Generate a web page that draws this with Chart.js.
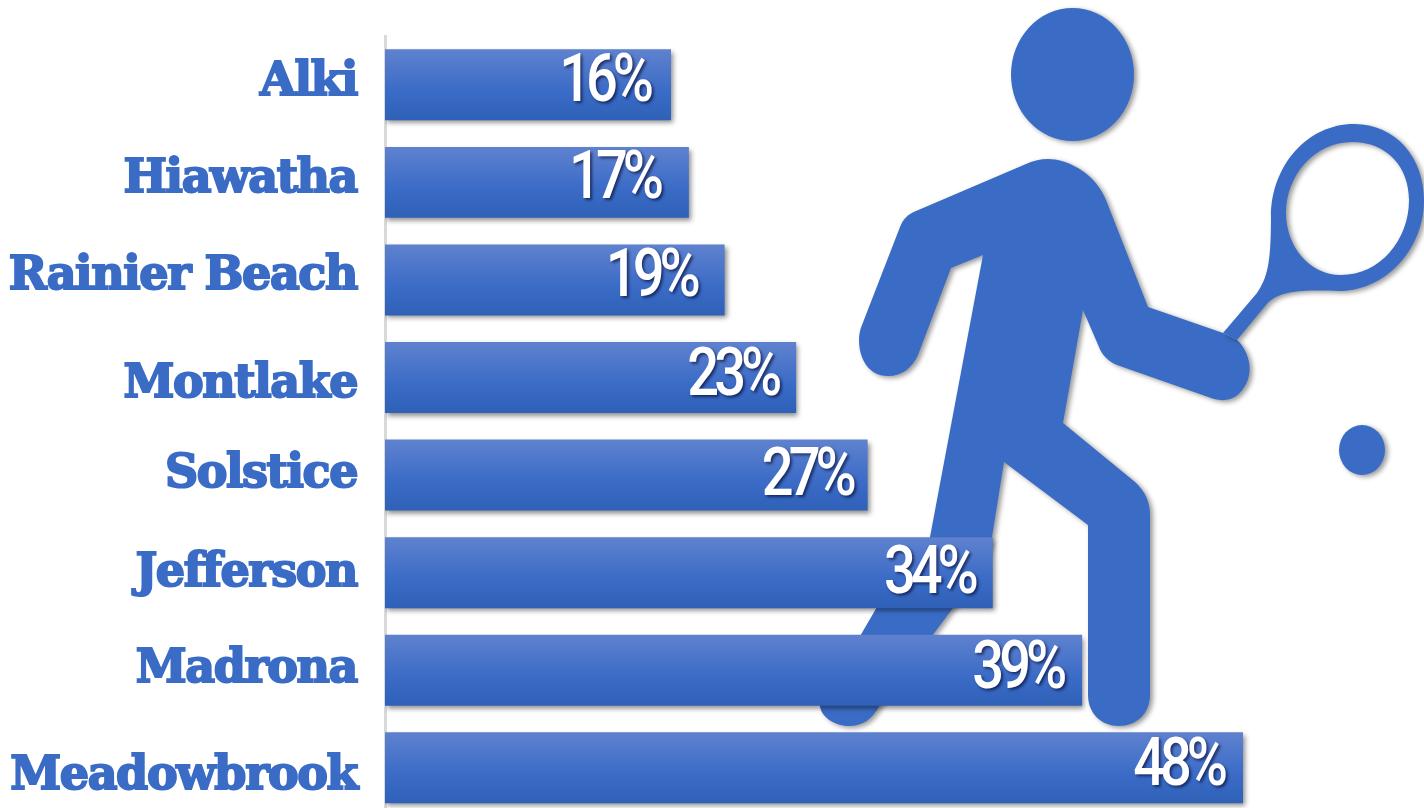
<!DOCTYPE html>
<html>
<head>
<meta charset="utf-8">
<title>Tennis participation</title>
<script src="https://cdn.jsdelivr.net/npm/chart.js@4"></script>
<style>
    html, body { margin: 0; padding: 0; background: #ffffff; overflow: hidden; }
    #wrap { width: 1424px; height: 808px; overflow: hidden; }
    canvas { display: block; }
</style>
</head>
<body>
<div id="wrap"><canvas id="chart" width="1424" height="840"></canvas></div>
<script>
const categories = ["Alki", "Hiawatha", "Rainier Beach", "Montlake", "Solstice", "Jefferson", "Madrona", "Meadowbrook"];
const percentValues = [16, 17, 19, 23, 27, 34, 39, 48];

// the labels in the original sit a little off the bar centres
const tickNudgeY = [-2, -2, -3, 8, 0, 1, 0, 9];
const valueShiftX = [-22, -30, -29, -19, -16, -19, -20, -20];
const valueNudgeY = [-2, -3, -2, -1, 1, 2, -1, -1];

const BLUE = "#3a6cc6";

/* ================= PLAYER FIGURE ================= */
const figurePaths = [
    // body
    "M1026 164 C1044 156 1060 158 1078 168 C1092 176 1101 188 1106 200 L1148 307 L1223 333 L1237 340 " +
    "C1250 352 1253 372 1246 384 C1240 396 1230 403 1214 399 L1117 365 C1108 361 1102 355 1099 347 L1083 310 " +
    "L1063 423 L1135 482 C1145 491 1150 502 1150 515 L1150 695 C1150 714 1136 726 1119 726 " +
    "C1102 726 1088 714 1088 695 L1088 525 L1004 462 L992 537 C988 560 970 585 953 608 L880 705 " +
    "C872 720 862 726 849 726 C834 726 820 716 820 705 L877 607 C895 585 920 560 930 537 L983 255 L951 268 L918 355 " +
    "C912 368 902 376 888 376 C868 376 859 358 859 340 C859 334 860 330 862 325 L900 227 C903 219 908 214 916 211 Z",
    // head
    "M1011 74.5 A61.5 66.5 0 1 1 1134 74.5 A61.5 66.5 0 1 1 1011 74.5 Z",
    // ball
    "M1339 450 A23 25 0 1 1 1385 450 A23 25 0 1 1 1339 450 Z",
    // racket with the hole cut out
    "M1223 333 L1257 293 C1267 278 1271 265 1271 217 C1271 165 1308 124 1354 124 C1396 124 1424 158 1424 200 " +
    "C1424 250 1385 291 1339 291 C1320 291 1280 287 1266 305 L1237 340 Z " +
    "M1286 213 C1286 245 1308 275 1341 275 C1380 275 1409 240 1409 200 C1409 168 1388 142 1352 142 C1315 142 1286 175 1286 213 Z"
];

const figurePlugin = {
    id: "figure",
    beforeDatasetsDraw(chart) {
        const ctx = chart.ctx;
        ctx.save();
        ctx.fillStyle = BLUE;
        ctx.shadowColor = "rgba(0,0,0,0.4)";
        ctx.shadowBlur = 5;
        ctx.shadowOffsetX = 3;
        ctx.shadowOffsetY = 2;
        figurePaths.forEach(d => ctx.fill(new Path2D(d), "evenodd"));
        ctx.restore();
    }
};

/* ================= SHADOWS AND LABELS ================= */
const barShadowPlugin = {
    id: "barShadow",
    beforeDatasetDraw(chart) {
        const ctx = chart.ctx;
        ctx.save();
        ctx.shadowColor = "rgba(0,0,0,0.45)";
        ctx.shadowBlur = 5;
        ctx.shadowOffsetX = 2;
        ctx.shadowOffsetY = 3;
    },
    afterDatasetDraw(chart) {
        chart.ctx.restore();
    }
};

const tickNudgePlugin = {
    id: "tickNudge",
    beforeDraw(chart) {
        chart.ctx.letterSpacing = "-1.4px";
        chart.scales.y.getLabelItems(chart.chartArea).forEach((item, i) => {
            if (!item.nudged) {
                item.options.translation[1] += tickNudgeY[i];
                item.nudged = true;
            }
        });
    }
};

const valueLabelPlugin = {
    id: "valueLabels",
    afterDatasetsDraw(chart) {
        const ctx = chart.ctx;
        const bars = chart.getDatasetMeta(0).data;
        ctx.save();
        ctx.font = "500 66px Roboto";
        ctx.letterSpacing = "-6px";
        ctx.fillStyle = "#ffffff";
        ctx.textAlign = "right";
        ctx.textBaseline = "middle";
        ctx.shadowColor = "rgba(0,0,40,0.6)";
        ctx.shadowBlur = 3;
        ctx.shadowOffsetX = 2;
        ctx.shadowOffsetY = 2;
        bars.forEach((bar, i) => {
            ctx.save();
            ctx.translate(bar.x + valueShiftX[i], bar.y + valueNudgeY[i] + 2);
            ctx.scale(0.85, 1);
            ctx.fillText(percentValues[i] + "%", 0, 0);
            ctx.restore();
        });
        ctx.restore();
    }
};

/* ================= BAR FILL ================= */
function barGradient(context) {
    const chart = context.chart;
    if (!chart.chartArea) {
        return BLUE;
    }
    const middle = chart.scales.y.getPixelForValue(context.dataIndex);
    const g = chart.ctx.createLinearGradient(0, middle - 35.5, 0, middle + 35.5);
    g.addColorStop(0, "#5f82cf");
    g.addColorStop(0.6, "#3a6bc6");
    g.addColorStop(1, "#2f61b8");
    return g;
}

/* ================= CHART ================= */
new Chart(document.getElementById("chart").getContext("2d"), {
    type: "bar",
    data: {
        labels: categories,
        datasets: [{
            data: percentValues,
            backgroundColor: barGradient,
            borderWidth: 0,
            barPercentage: 0.727,
            categoryPercentage: 1
        }]
    },
    plugins: [tickNudgePlugin, figurePlugin, barShadowPlugin, valueLabelPlugin],
    options: {
        indexAxis: "y",
        responsive: false,
        animation: false,
        layout: {
            padding: { top: 36, right: 2.25, bottom: 23.4, left: 0 }
        },
        plugins: {
            legend: { display: false },
            tooltip: { enabled: false }
        },
        scales: {
            x: {
                display: false,
                min: 0,
                max: 58
            },
            y: {
                afterFit(scale) {
                    scale.width = 385;
                    scale.paddingTop = 0;
                    scale.paddingBottom = 0;
                },
                grid: { display: false, drawTicks: false },
                border: { display: true, color: "#d9d9d9", width: 3 },
                ticks: {
                    autoSkip: false,
                    padding: 28,
                    color: BLUE,
                    textStrokeColor: BLUE,
                    textStrokeWidth: 2,
                    font: { family: "'DejaVu Serif'", size: 46, weight: "bold" }
                }
            }
        }
    }
});
</script>
</body>
</html>
